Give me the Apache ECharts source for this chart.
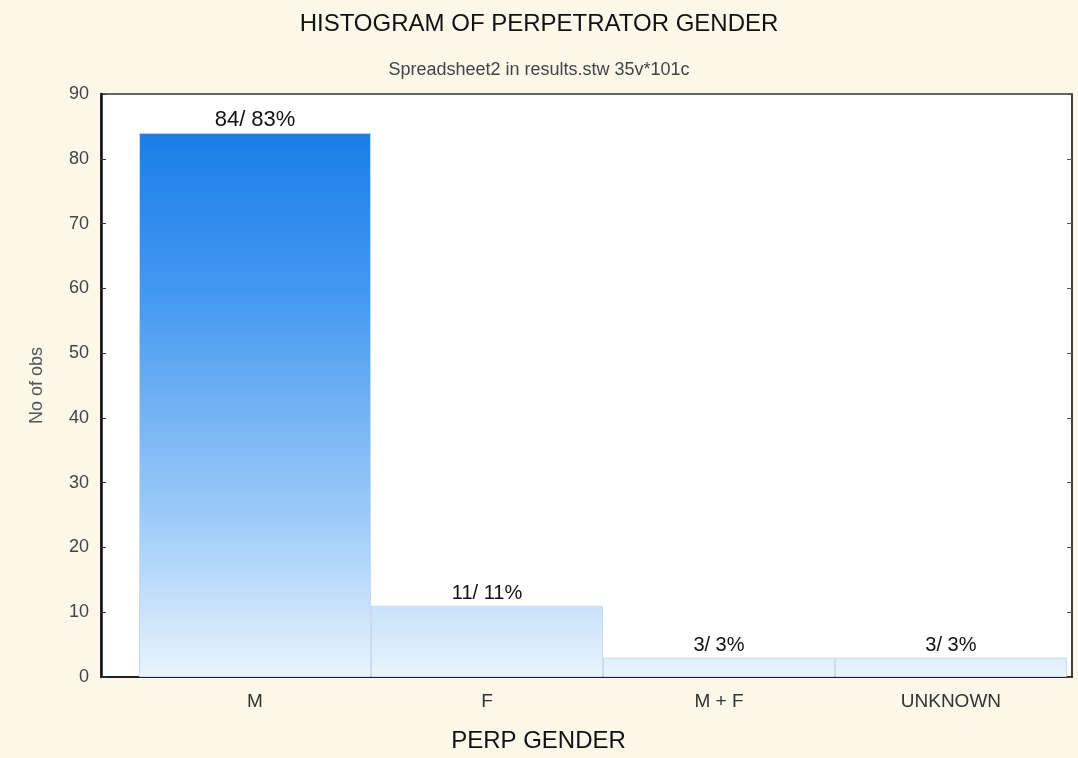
<!DOCTYPE html>
<html>
<head>
<meta charset="utf-8">
<script src="https://cdn.jsdelivr.net/npm/echarts@6/dist/echarts.min.js"></script>
<style>
  html, body { margin: 0; padding: 0; background: #fbf8ea; }
  #chart { width: 1078px; height: 758px; }
</style>
</head>
<body>
<div id="chart"></div>
<script>
// categories and counts
var categories = ['M', 'F', 'M + F', 'UNKNOWN'];
var counts = [84, 11, 3, 3];
var percents = [83, 11, 3, 3];

var chart = echarts.init(document.getElementById('chart'));

// bar positions on the x axis = category index
var catIdx = categories.map(function (c, i) { return i; });
var barData = counts.map(function (v, i) {
  var item = { value: [i, v] };
  // the tallest bar has a slightly bigger label in the original
  if (i === 0) item.label = { fontSize: 22 };
  return item;
});

// one gradient for all bars, anchored to the plot (global coords)
var barFill = new echarts.graphic.LinearGradient(0, 133, 0, 678, [
  { offset: 0, color: '#1a7ee9' },
  { offset: 0.3, color: '#4499f0' },
  { offset: 0.7, color: '#9ccaf7' },
  { offset: 1, color: '#eaf4fd' }
], true);

var option = {
  backgroundColor: '#fbf8ea',
  animation: false,
  textStyle: { fontFamily: 'Liberation Sans, Arial, sans-serif' },
  title: [
    {
      text: 'HISTOGRAM OF PERPETRATOR GENDER',
      left: 'center',
      top: 7,
      textStyle: { fontSize: 24, fontWeight: 'normal', color: '#111' }
    },
    {
      text: 'Spreadsheet2 in results.stw 35v*101c',
      left: 'center',
      top: 56,
      textStyle: { fontSize: 18, fontWeight: 'normal', color: '#444' }
    }
  ],
  grid: {
    left: 101, right: 6, top: 94, bottom: 80,
    show: true,
    backgroundColor: '#ffffff',
    borderColor: '#333',
    borderWidth: 1.5
  },
  xAxis: [
    {
      type: 'value',
      min: -0.664,
      max: 3.522,
      name: 'PERP GENDER',
      nameLocation: 'middle',
      nameGap: 52,
      nameTextStyle: { fontSize: 24, color: '#111', padding: [0, 96, 0, 0] },
      axisLine: { show: true, onZero: false, lineStyle: { color: '#222', width: 2 } },
      axisTick: { show: true, inside: true, length: 4, customValues: catIdx, lineStyle: { color: '#333' } },
      axisLabel: {
        customValues: catIdx,
        margin: 15,
        fontSize: 19,
        color: '#333',
        formatter: function (v) { return categories[Math.round(v)]; }
      },
      splitLine: { show: false }
    }
  ],
  yAxis: [
    {
      type: 'value',
      min: 0, max: 90, interval: 10,
      name: 'No of obs',
      nameLocation: 'middle',
      nameGap: 55,
      nameTextStyle: { fontSize: 18, color: '#555' },
      axisLine: { show: true, onZero: false, lineStyle: { color: '#111', width: 2.5 } },
      axisTick: { show: true, inside: true, length: 5, lineStyle: { color: '#333' } },
      axisLabel: { fontSize: 18, color: '#444', margin: 12 },
      splitLine: { show: false }
    },
    {
      type: 'value',
      position: 'right',
      min: 0, max: 90, interval: 10,
      axisLine: { show: true, onZero: false, lineStyle: { color: '#333', width: 1.5 } },
      axisTick: { show: true, inside: true, length: 5, lineStyle: { color: '#555' } },
      axisLabel: { show: false },
      splitLine: { show: false }
    }
  ],
  series: [
    {
      type: 'bar',
      data: barData,
      barWidth: 232,
      itemStyle: { color: barFill, borderColor: '#c9daf2', borderWidth: 1 },
      label: {
        show: true,
        position: 'top',
        distance: 2,
        fontSize: 20,
        color: '#111',
        formatter: function (p) {
          var i = p.dataIndex;
          return counts[i] + '/ ' + percents[i] + '%';
        }
      }
    }
  ]
};

chart.setOption(option);
</script>
</body>
</html>
